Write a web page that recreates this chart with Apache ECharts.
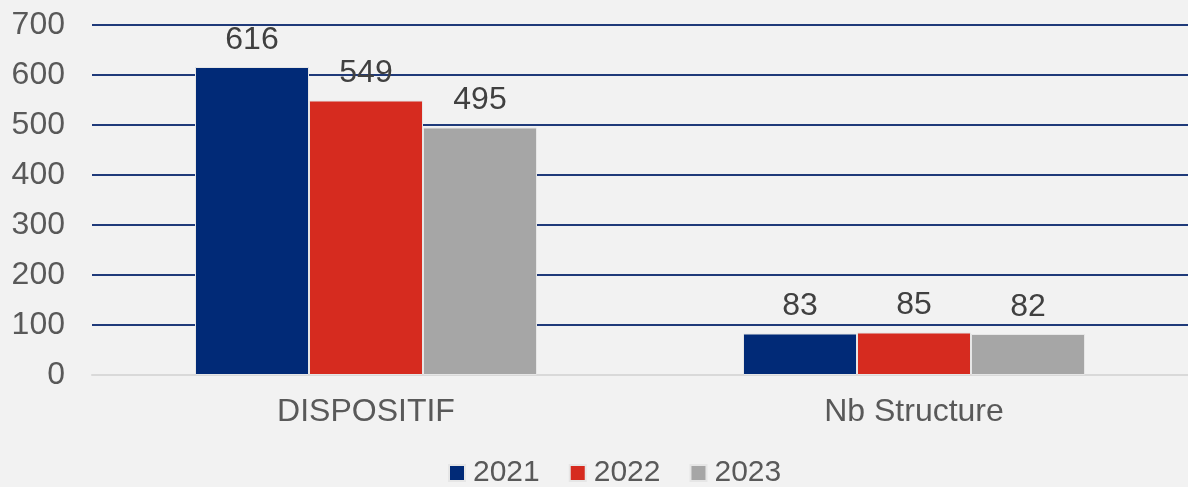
<!DOCTYPE html>
<html>
<head>
<meta charset="utf-8">
<script src="https://cdn.jsdelivr.net/npm/echarts@6/dist/echarts.min.js"></script>
<style>
  html, body { margin: 0; padding: 0; background: #f2f2f2; }
  #chart { width: 1188px; height: 487px; }
</style>
</head>
<body>
<div id="chart"></div>
<script>
  // données
  const categories = ['DISPOSITIF', 'Nb Structure']
  const years = ['2021', '2022', '2023']
  const values2021 = [616, 83]
  const values2022 = [549, 85]
  const values2023 = [495, 82]
  const colors = ['#012a77', '#d62b1f', '#a6a6a6']

  const myChart = echarts.init(document.getElementById('chart'))

  const font = 'Liberation Sans, Arial, sans-serif'

  let series = [values2021, values2022, values2023].map((vals, i) => ({
    name: years[i],
    type: 'bar',
    data: vals,
    barWidth: 114,
    barGap: '0%',
    itemStyle: {
      color: colors[i],
      borderColor: '#e6e6e6',
      borderWidth: 1
    },
    label: {
      show: true,
      position: 'top',
      distance: 11,
      color: '#404040',
      fontSize: 32,
      fontFamily: font
    }
  }))

  let option = {
    backgroundColor: '#f2f2f2',
    animation: false,
    grid: {
      left: 92,
      width: 1100,
      top: 25,
      bottom: 112,
      containLabel: false
    },
    legend: {
      top: 453,
      left: 443,
      itemWidth: 16,
      itemHeight: 16,
      itemGap: 29,
      icon: 'rect',
      textStyle: {
        color: '#595959',
        fontSize: 30,
        fontFamily: font,
        padding: [0, 0, 0, 3]
      },
      data: years
    },
    xAxis: {
      type: 'category',
      data: categories,
      axisTick: { show: false },
      axisLine: { lineStyle: { color: '#d9d9d9', width: 2 } },
      axisLabel: {
        color: '#595959',
        fontSize: 32,
        fontFamily: font,
        margin: 21
      }
    },
    yAxis: {
      type: 'value',
      min: 0,
      max: 700,
      interval: 100,
      axisLine: { show: false },
      axisTick: { show: false },
      splitLine: {
        lineStyle: { color: '#1f3a7a', width: 2 }
      },
      axisLabel: {
        color: '#595959',
        fontSize: 32,
        fontFamily: font,
        margin: 27
      }
    },
    series: series
  }

  myChart.setOption(option)
</script>
</body>
</html>
